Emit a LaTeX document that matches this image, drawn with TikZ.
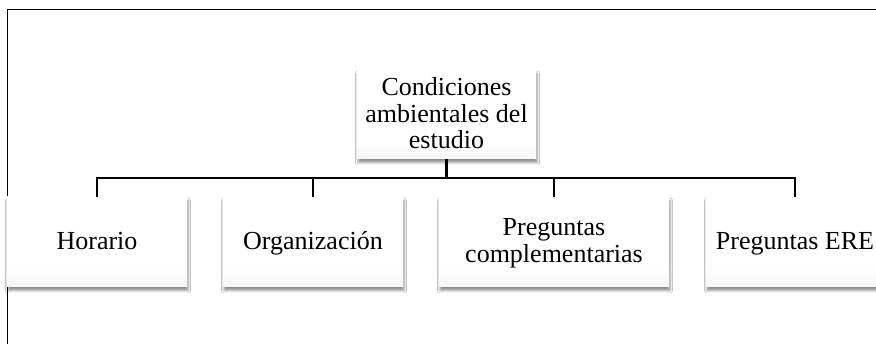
\documentclass[tikz,border=0pt]{standalone}
\usepackage{fontspec}
\setmainfont{Liberation Serif}
\usetikzlibrary{shadows.blur}
\pgfdeclareverticalshading{boxgrad}{100bp}{color(0bp)=(black!13); color(35bp)=(white); color(100bp)=(white)}
\newcommand\lnstrut{\rule[-4pt]{0pt}{24pt}}
\tikzset{
  boxnode/.style={shading=boxgrad, minimum height=90pt, inner sep=0pt, align=center,
    font=\fontsize{26}{26.5}\selectfont,
    blur shadow={shadow xshift=1pt, shadow yshift=-3.5pt, shadow blur radius=2.5pt, shadow opacity=45}},
  link/.style={line width=2.2pt, draw=black},
  frameline/.style={line width=1pt, draw=black}
}
\begin{document}
\begin{tikzpicture}[x=1pt,y=1pt]
\useasboundingbox (0,0) rectangle (876,343);
\clip (0,0) rectangle (876,343);
\fill[white] (0,0) rectangle (876,343);
\draw[frameline] (880,333.3) -- (7,333.3) -- (7,-5);
\node[boxnode, minimum width=179pt, minimum height=89pt] (root) at (446.5,228.5) {\lnstrut Condiciones\\\lnstrut ambientales del\\\lnstrut estudio};
\node[boxnode, minimum width=180pt] (h) at (97,101) {\lnstrut Horario};
\node[boxnode, minimum width=180pt] (o) at (313,101) {\lnstrut Organización};
\node[boxnode, minimum width=230pt] (pc) at (554,101) {\lnstrut Preguntas\\\lnstrut complementarias};
\node[boxnode, minimum width=178pt] (ere) at (795,101) {\lnstrut Preguntas ERE};
\coordinate (j) at (446.5,165);
\draw[link] (root.south) -- (j);
\draw[link, line cap=rect] (j -| h) -- (j -| ere);
\foreach \c in {h,o,pc,ere} \draw[link] (j -| \c) -- (\c.north);
\end{tikzpicture}
\end{document}
